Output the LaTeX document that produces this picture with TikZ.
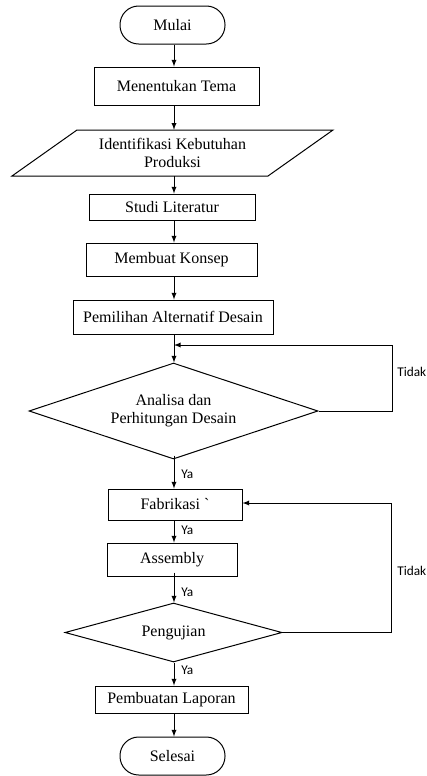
\documentclass[tikz,border=0pt]{standalone}
\usepackage{fontspec}
\setmainfont{Liberation Serif}
\newfontfamily\labelfont{Carlito}
\usepackage{tikz}
\usetikzlibrary{shapes.geometric}
\usetikzlibrary{arrows}

\tikzset{
  terminal/.style={draw, line width=0.75pt, rounded corners=14pt, inner sep=0pt,
    minimum width=78.75pt, minimum height=28.5pt, font=\fontsize{12}{13.5}\selectfont},
  process/.style={draw, line width=0.75pt, inner sep=0pt, font=\fontsize{12}{13.5}\selectfont},
  decision/.style={draw, diamond, aspect=3, inner sep=0pt, line width=0.75pt,
    align=center, font=\fontsize{12}{13.5}\selectfont},
  flow/.style={-latex, line width=0.75pt},
  answer/.style={anchor=west, inner sep=0pt, font=\labelfont\fontsize{10}{11}\selectfont},
}

\begin{document}
\begin{tikzpicture}[x=0.75pt,y=0.75pt,yscale=-1,xscale=1]
\useasboundingbox (0,0) rectangle (427,776);

% Terminal
\node[terminal] (mulai) at (172.5,25) {Mulai};
% Process
\node[process, minimum width=123.75pt, minimum height=28.5pt] (tema) at (176.5,86) {Menentukan Tema};
%Shape: Parallelogram
\draw[line width=0.75pt] (77,130) -- (333,130) -- (268,176) -- (12,176) -- cycle;
\node[inner sep=0pt, minimum height=34.5pt, align=center, font=\fontsize{12}{13.5}\selectfont] (ident) at (172.5,153) {Identifikasi Kebutuhan\\Produksi};
% Process
\node[process, minimum width=124.5pt, minimum height=19.5pt] (studi) at (172,207) {Studi Literatur};
\node[process, minimum width=128.25pt, minimum height=24.75pt] (konsep) at (171.5,259.5) {Membuat Konsep};
\node[process, minimum width=150pt, minimum height=25.5pt] (pilih) at (173,317) {Pemilihan Alternatif Desain};
% Decision
\node[decision, minimum width=216.75pt, minimum height=72pt] (analisa) at (173.5,411) {Analisa dan\\Perhitungan Desain};
% Process
\node[process, minimum width=100.5pt, minimum height=23.25pt] (fabrikasi) at (175,504.5) {Fabrikasi \textasciigrave};
\node[process, minimum width=97.5pt, minimum height=24.75pt] (assembly) at (172,559.5) {Assembly};
% Decision
\node[decision, minimum width=162.75pt, minimum height=44.25pt] (uji) at (173.5,632.5) {Pengujian};
% Process
\node[process, minimum width=114.75pt, minimum height=20.25pt] (laporan) at (171.5,699.5) {Pembuatan Laporan};
% Terminal
\node[terminal] (selesai) at (172.5,756) {Selesai};

% Loop points
\coordinate (join1) at (174,345);
\coordinate (back1) at (392,411);
\coordinate (back2) at (391,632.5);

% Arrows
\draw[flow] (mulai.south -| 174,0) -- (tema.north -| 174,0);
\draw[flow] (tema.south -| 174,0) -- (ident.north -| 174,0);
\draw[flow] (ident.south -| 174,0) -- (studi.north -| 174,0);
\draw[flow] (studi.south -| 174,0) -- (konsep.north -| 174,0);
\draw[flow] (konsep.south -| 174,0) -- (pilih.north -| 174,0);
\draw[flow] (pilih.south -| 174,0) -- (analisa.north -| 174,0);
\draw[flow] (analisa.east) -- (back1) |- (join1);
\draw[flow] ([yshift=-3pt]analisa.south -| 174,0) -- (fabrikasi.north -| 174,0);
\draw[flow] (fabrikasi.south -| 174,0) -- (assembly.north -| 174,0);
\draw[flow] ([yshift=-3pt]assembly.south -| 174,0) -- (uji.north -| 174,0);
\draw[flow] (uji.east) -- (back2) |- (fabrikasi.east |- 0,503);
\draw[flow] (uji.south -| 174,0) -- (laporan.north -| 174,0);
\draw[flow] (laporan.south -| 174,0) -- (selesai.north -| 174,0);

% Text Node
\node[answer] (tidak1) at (397,372) {Tidak};
\node[answer] (tidak2) at (397,571) {Tidak};
\node[answer] (ya1) at (181,474) {Ya};
\node[answer] (ya2) at (181,530) {Ya};
\node[answer] (ya3) at (181,592) {Ya};
\node[answer] (ya4) at (181,670) {Ya};

\end{tikzpicture}
\end{document}
